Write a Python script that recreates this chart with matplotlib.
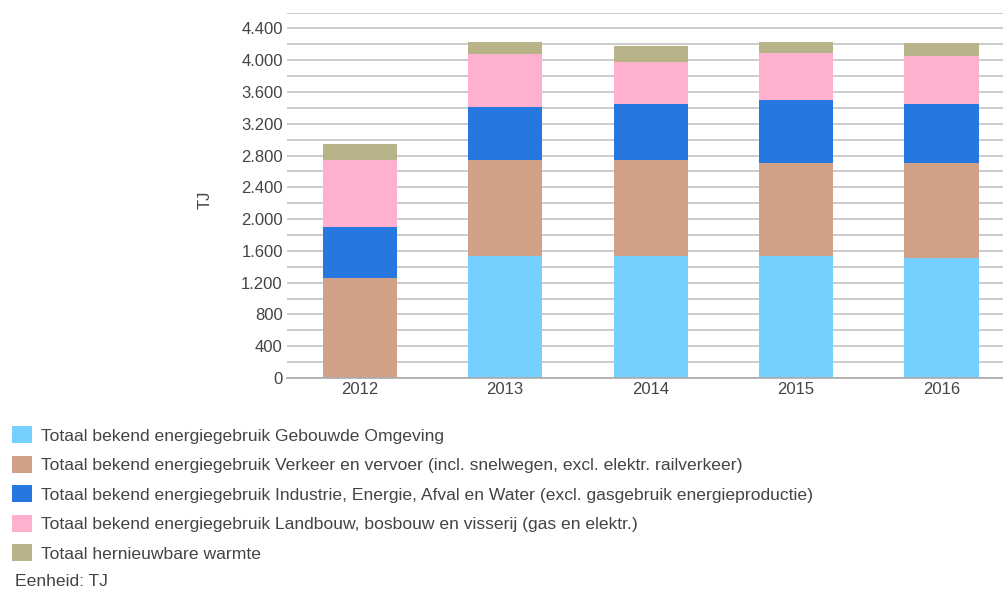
import matplotlib.pyplot as plt
import numpy as np

plt.rcParams["font.family"] = ["Liberation Sans", "DejaVu Sans"]

years = ["2012", "2013", "2014", "2015", "2016"]
labels = [
    "Totaal bekend energiegebruik Gebouwde Omgeving",
    "Totaal bekend energiegebruik Verkeer en vervoer (incl. snelwegen, excl. elektr. railverkeer)",
    "Totaal bekend energiegebruik Industrie, Energie, Afval en Water (excl. gasgebruik energieproductie)",
    "Totaal bekend energiegebruik Landbouw, bosbouw en visserij (gas en elektr.)",
    "Totaal hernieuwbare warmte",
]
gebouwd = [0, 1538, 1540, 1540, 1515]
verkeer = [1257, 1211, 1205, 1167, 1192]
industrie = [645, 662, 708, 788, 746]
landbouw = [847, 666, 524, 599, 603]
warmte = [197, 159, 201, 142, 159]
series = [gebouwd, verkeer, industrie, landbouw, warmte]
colors = ["#76D0FF", "#D0A186", "#2777E0", "#FFB0CE", "#B9B389"]

fig = plt.figure(figsize=(10.04, 5.9), dpi=100)
ax = fig.add_axes([287 / 1004, 1 - 378 / 590, 1 - 287 / 1004, (378 - 12.6) / 590])

x = np.arange(len(years))
bottom = np.zeros(len(years))
for vals, lab, col in zip(series, labels, colors):
    ax.bar(x, vals, width=0.51, bottom=bottom, color=col, label=lab, zorder=3)
    bottom += np.array(vals)

ax.set_xlim(-0.5, 4.43)
ax.set_ylim(0, 4600)
yt = np.arange(0, 4601, 200)
ax.set_yticks(yt)
ax.set_yticklabels([f"{v:,}".replace(",", ".") if v % 400 == 0 and v < 4600 else "" for v in yt])
ax.set_xticks(x)
ax.set_xticklabels(years)
ax.tick_params(length=0, labelsize=12, colors="#444444", pad=3)
ax.grid(axis="y", color="#cccccc", linewidth=1.4, zorder=0)
for s in ["top", "right", "left"]:
    ax.spines[s].set_visible(False)
ax.spines["bottom"].set_color("#aaaaaa")
ax.spines["bottom"].set_linewidth(1.2)
ax.spines["bottom"].set_zorder(4)

fig.text(205 / 1004, 1 - 200 / 590, "TJ", rotation=90, ha="center", va="center",
         fontsize=12, color="#444444")

handles, labs = ax.get_legend_handles_labels()
fig.legend(handles, labs, loc="upper left", bbox_to_anchor=(12 / 1004, 1 - 426 / 590),
           frameon=False, fontsize=12.6, handlelength=1.15, handleheight=1.15,
           handletextpad=0.5, labelspacing=0.68, borderpad=0, borderaxespad=0,
           labelcolor="#444444")
fig.text(15 / 1004, 1 - 581 / 590, "Eenheid: TJ", ha="left", va="center",
         fontsize=12.6, color="#444444")

fig.savefig("out.png", dpi=100)
